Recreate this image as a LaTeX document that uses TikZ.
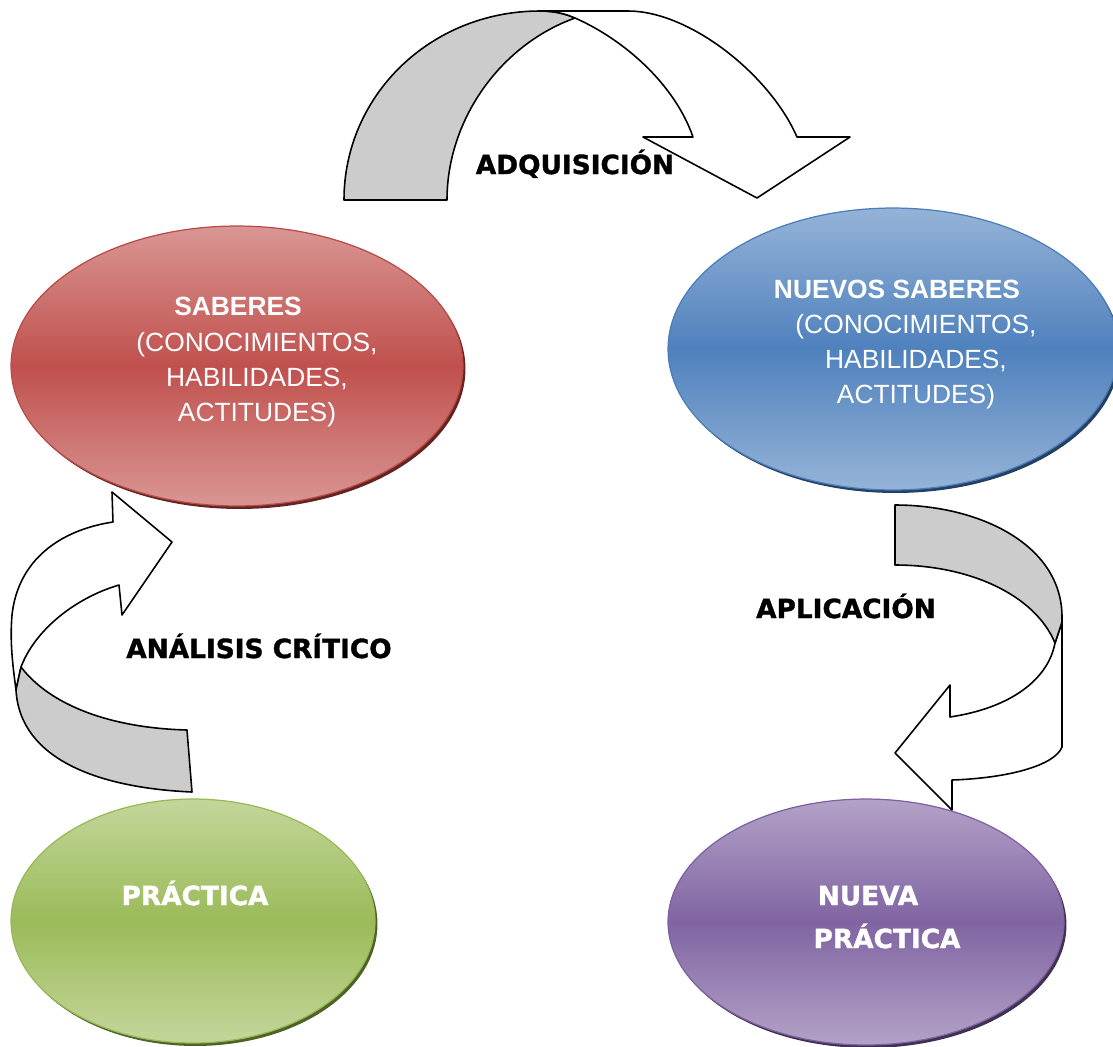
\documentclass[tikz,border=0pt]{standalone}
\usepackage{fontspec}
\setmainfont{Liberation Sans}
\newfontfamily\heavyfont{DejaVu Sans}[BoldFeatures={FakeBold=1.3}]
\usetikzlibrary{shapes.geometric,shadows}
\definecolor{redlt}{HTML}{D99694}\definecolor{redmd}{HTML}{C0504D}\definecolor{redbd}{HTML}{BA4A47}\definecolor{redsh}{HTML}{632523}
\definecolor{bluelt}{HTML}{95B3D7}\definecolor{bluemd}{HTML}{4F81BD}\definecolor{bluebd}{HTML}{4A7EBB}\definecolor{bluesh}{HTML}{254061}
\definecolor{grnlt}{HTML}{C3D69B}\definecolor{grnmd}{HTML}{9BBB59}\definecolor{grnbd}{HTML}{98B954}\definecolor{grnsh}{HTML}{4F6228}
\definecolor{purlt}{HTML}{B3A2C7}\definecolor{purmd}{HTML}{8064A2}\definecolor{purbd}{HTML}{7D60A0}\definecolor{pursh}{HTML}{3F3151}
\definecolor{bandgray}{HTML}{CCCCCC}
\begin{document}
\begin{tikzpicture}[x=0.02cm,y=-0.02cm,
  bubble/.style={ellipse, inner sep=0pt, line width=0.7pt},
  redbub/.style={bubble, draw=redbd, top color=redlt, bottom color=redlt, middle color=redmd,
    drop shadow={shadow xshift=0.05cm, shadow yshift=-0.06cm, fill=redsh, opacity=1}},
  bluebub/.style={bubble, draw=bluebd, top color=bluelt, bottom color=bluelt, middle color=bluemd,
    drop shadow={shadow xshift=0.05cm, shadow yshift=-0.06cm, fill=bluesh, opacity=1}},
  grnbub/.style={bubble, draw=grnbd, top color=grnlt, bottom color=grnlt, middle color=grnmd,
    drop shadow={shadow xshift=0.05cm, shadow yshift=-0.06cm, fill=grnsh, opacity=1}},
  purbub/.style={bubble, draw=purbd, top color=purlt, bottom color=purlt, middle color=purmd,
    drop shadow={shadow xshift=0.05cm, shadow yshift=-0.06cm, fill=pursh, opacity=1}},
  intxt/.style={anchor=base, text=white, inner sep=0pt, font=\fontsize{15}{18}\selectfont},
  inbold/.style={anchor=base, text=white, inner sep=0pt, font=\bfseries\fontsize{15}{18}\selectfont},
  inheavy/.style={anchor=base, text=white, inner sep=0pt, font=\heavyfont\bfseries\fontsize{15}{18}\selectfont},
  lbl/.style={anchor=base, text=black, inner sep=0pt, font=\heavyfont\bfseries\fontsize{15}{18}\selectfont},
  ribbon/.style={draw=black, line width=0.9pt, line join=round},
  backband/.style={ribbon, fill=bandgray},
  frontband/.style={ribbon, fill=white}]
\useasboundingbox (0,0) rectangle (1113,1046);
\clip (0,0) rectangle (1113,1046);

% ellipses
\node[redbub, minimum width=9.04cm, minimum height=5.6cm] (saberes) at (237,366) {};
\node[bluebub, minimum width=9.0cm, minimum height=5.64cm] (nuevos) at (893,349) {};
\node[grnbub, minimum width=7.28cm, minimum height=4.88cm] (practica) at (193,921) {};
\node[purbub, minimum width=7.92cm, minimum height=4.92cm] (nueva) at (866,922) {};

% texts inside
\node[inbold] (t1) at (238,315) {SABERES};
\node[intxt] (t2) at (257,351) {(CONOCIMIENTOS,};
\node[intxt] (t3) at (257,386) {HABILIDADES,};
\node[intxt] (t4) at (257,421) {ACTITUDES)};
\node[inbold] (u1) at (897,298) {NUEVOS SABERES};
\node[intxt] (u2) at (916,333) {(CONOCIMIENTOS,};
\node[intxt] (u3) at (916,368) {HABILIDADES,};
\node[intxt] (u4) at (916,403) {ACTITUDES)};
\node[inheavy] (p1) at (195,905) {PRÁCTICA};
\node[inheavy] (n1) at (868,905) {NUEVA};
\node[inheavy] (n2) at (887,948) {PRÁCTICA};

% top curved arrow (ADQUISICION)
\path[backband] (344,200) .. controls (344,95) and (431,11) .. (540,11)
  .. controls (555,11) and (566,14) .. (575,18)
  .. controls (500,45) and (447,120) .. (447,200) -- cycle;
\path[frontband] (540,11) -- (628,11) .. controls (690,11) and (770,75) .. (797,137)
  -- (850,137) -- (757,198) -- (643,137) -- (693,137)
  .. controls (675,85) and (625,40) .. (575,18)
  .. controls (566,14) and (555,11) .. (540,11) -- cycle;

% left curved arrow (ANALISIS CRITICO)
\path[frontband] (16,690) .. controls (12,660) and (10,640) .. (12,615)
  .. controls (18,560) and (60,530) .. (113,522)
  -- (112,492) -- (172,542) -- (122,615) -- (119,585)
  .. controls (75,598) and (35,630) .. (21,667) -- cycle;
\path[backband] (21,667) .. controls (50,705) and (110,728) .. (187,730)
  -- (192,792) .. controls (100,788) and (20,760) .. (16,690) -- cycle;

% right curved arrow (APLICACION)
\path[frontband] (1062,622) -- (1062,747) .. controls (1055,765) and (1010,778) .. (952,780)
  -- (952,810) -- (895,753) -- (950,685) -- (950,717)
  .. controls (1010,708) and (1048,680) .. (1055,643) -- cycle;
\path[backband] (895,505) .. controls (980,505) and (1062,545) .. (1062,617)
  -- (1062,622) -- (1055,643)
  .. controls (1035,595) and (970,565) .. (895,565) -- cycle;

% labels
\node[lbl] (adq) at (575,174) {ADQUISICIÓN};
\node[lbl] (ana) at (259,658) {ANÁLISIS CRÍTICO};
\node[lbl] (apl) at (846,618) {APLICACIÓN};
\end{tikzpicture}
\end{document}
